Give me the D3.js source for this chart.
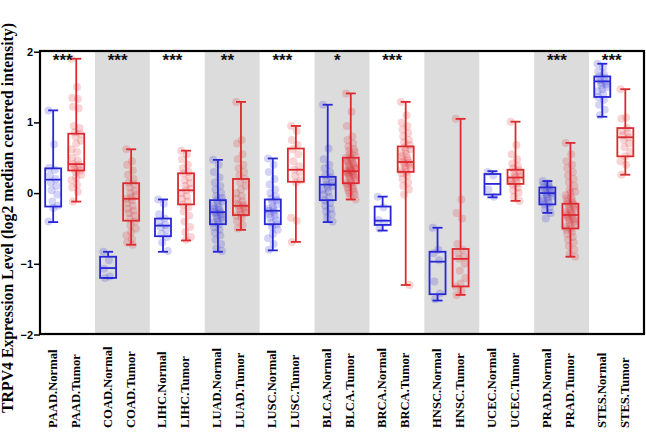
<!DOCTYPE html>
<html><head><meta charset="utf-8">
<script src="https://cdn.jsdelivr.net/npm/d3@7"></script>
<style>body{margin:0;background:#fff}svg{display:block}</style>
</head><body>
<svg id="chart" width="646" height="434"></svg>
<script>
const cancers = ["PAAD","COAD","LIHC","LUAD","LUSC","BLCA","BRCA","HNSC","UCEC","PRAD","STES"];
const stars = ["***","***","***","**","***","*","***","","","***","***"];
const yTicks = [-2,-1,0,1,2];
// box stats: [whiskerLow, q1, median, q3, whiskerHigh]
const normalStats = [
  [-0.41,-0.19,0.19,0.35,1.17],[-1.20,-1.20,-1.06,-0.90,-0.83],[-0.83,-0.61,-0.46,-0.36,-0.09],
  [-0.83,-0.44,-0.27,-0.10,0.47],[-0.81,-0.44,-0.25,-0.09,0.49],[-0.41,-0.10,0.12,0.23,1.25],
  [-0.53,-0.45,-0.39,-0.19,-0.05],[-1.52,-1.43,-0.97,-0.83,-0.49],[-0.06,-0.02,0.13,0.27,0.31],
  [-0.28,-0.16,0.00,0.08,0.17],[1.08,1.36,1.58,1.65,1.83]];
const tumorStats = [
  [-0.12,0.32,0.41,0.84,1.90],[-0.73,-0.39,-0.08,0.14,0.62],[-0.67,-0.16,0.04,0.28,0.60],
  [-0.52,-0.31,-0.18,0.20,1.29],[-0.69,0.16,0.33,0.63,0.95],[-0.09,0.14,0.31,0.50,1.41],
  [-1.30,0.30,0.44,0.66,1.29],[-1.44,-1.32,-0.93,-0.79,1.05],[-0.11,0.13,0.22,0.33,1.01],
  [-0.90,-0.50,-0.31,-0.15,0.71],[0.26,0.52,0.79,0.92,1.47]];
const normalPts = [
  [1.17,0.69,0.36,0.33,0.25,0.20,0.15,0.10,0.04,-0.02,-0.12,-0.18,-0.21,-0.40],
  [-0.83,-0.95,-1.07,-1.18,-1.20],
  [-0.09,-0.15,-0.30,-0.36,-0.40,-0.45,-0.48,-0.52,-0.58,-0.62,-0.70,-0.82],
  [0.47,0.40,0.30,0.22,0.15,0.10,0.05,0.0,-0.04,-0.07,-0.10,-0.12,-0.15,-0.18,-0.20,-0.22,-0.24,-0.26,-0.27,-0.28,-0.30,-0.32,-0.34,-0.36,-0.38,-0.40,-0.42,-0.44,-0.48,-0.52,-0.56,-0.60,-0.66,-0.72,-0.78,-0.82],
  [0.49,0.40,0.30,0.20,0.12,0.05,0.0,-0.05,-0.08,-0.10,-0.13,-0.16,-0.19,-0.22,-0.24,-0.25,-0.27,-0.30,-0.32,-0.35,-0.38,-0.42,-0.44,-0.48,-0.52,-0.58,-0.64,-0.72,-0.80],
  [1.25,0.63,0.48,0.40,0.35,0.30,0.25,0.22,0.18,0.15,0.12,0.10,0.08,0.05,0.02,-0.02,-0.06,-0.10,-0.14,-0.18,-0.22,-0.26,-0.30,-0.35,-0.40],
  [-0.05,-0.20,-0.38,-0.42,-0.50],
  [-0.49,-0.80,-0.85,-0.95,-1.25,-1.42,-1.50],
  [0.30,0.25,0.05,-0.05],
  [0.17,0.14,0.12,0.10,0.08,0.06,0.04,0.02,0.01,0.0,-0.02,-0.04,-0.06,-0.08,-0.10,-0.12,-0.14,-0.16,-0.20,-0.24,-0.28,-0.36],
  [1.83,1.78,1.72,1.68,1.65,1.63,1.60,1.58,1.56,1.54,1.52,1.50,1.47,1.44,1.40,1.36,1.32,1.25,1.18,1.10]];
const tumorPts = [
  [1.90,1.50,1.35,1.33,1.22,1.20,0.95,0.92,0.86,0.84,0.80,0.74,0.70,0.62,0.58,0.50,0.46,0.41,0.40,0.38,0.36,0.34,0.32,0.30,0.26,0.22,0.18,0.12,0.08,0.02,-0.12],
  [0.62,0.45,0.40,0.32,0.26,0.20,0.15,0.12,0.08,0.03,0.0,-0.03,-0.06,-0.08,-0.10,-0.14,-0.18,-0.22,-0.25,-0.28,-0.32,-0.36,-0.40,-0.45,-0.50,-0.55,-0.60,-0.65,-0.70,-0.73],
  [0.60,0.55,0.48,0.40,0.35,0.30,0.28,0.22,0.18,0.14,0.10,0.06,0.04,0.0,-0.04,-0.08,-0.12,-0.16,-0.20,-0.26,-0.32,-0.40,-0.48,-0.55,-0.62,-0.66],
  [1.29,0.75,0.70,0.55,0.48,0.40,0.35,0.30,0.25,0.20,0.15,0.10,0.05,0.0,-0.04,-0.08,-0.12,-0.15,-0.17,-0.18,-0.20,-0.22,-0.24,-0.26,-0.28,-0.30,-0.32,-0.35,-0.40,-0.45,-0.50],
  [0.95,0.88,0.75,0.68,0.62,0.55,0.45,0.38,0.33,0.30,0.24,0.18,0.15,-0.35,-0.39,-0.69],
  [1.41,1.15,0.95,0.80,0.75,0.70,0.66,0.62,0.60,0.58,0.55,0.52,0.50,0.50,0.48,0.46,0.45,0.44,0.42,0.40,0.39,0.38,0.36,0.35,0.34,0.33,0.32,0.31,0.30,0.29,0.28,0.27,0.26,0.25,0.24,0.22,0.20,0.18,0.16,0.15,0.14,0.12,0.10,0.08,0.06,0.04,0.02,0.0,-0.02,-0.05,-0.09],
  [1.29,1.10,1.00,0.95,0.90,0.85,0.80,0.75,0.72,0.68,0.65,0.62,0.60,0.58,0.55,0.52,0.50,0.48,0.46,0.44,0.43,0.42,0.40,0.38,0.36,0.34,0.32,0.30,0.28,0.25,0.20,0.15,0.10,0.05,-0.02,-1.30],
  [1.05,-0.09,-0.28,-0.36,-0.72,-0.80,-0.85,-0.90,-0.93,-1.0,-1.1,-1.2,-1.28,-1.32,-1.38,-1.44],
  [1.01,0.68,0.55,0.48,0.42,0.38,0.35,0.32,0.30,0.28,0.25,0.23,0.22,0.20,0.18,0.16,0.14,0.12,0.08,0.04,0.0,-0.05,-0.11],
  [0.71,0.55,0.45,0.40,0.35,0.30,0.25,0.20,0.15,0.10,0.05,0.02,0.0,-0.03,-0.06,-0.08,-0.10,-0.12,-0.14,-0.15,-0.17,-0.19,-0.20,-0.22,-0.24,-0.25,-0.27,-0.28,-0.30,-0.31,-0.32,-0.34,-0.35,-0.37,-0.38,-0.40,-0.42,-0.44,-0.46,-0.48,-0.50,-0.52,-0.55,-0.58,-0.62,-0.66,-0.70,-0.75,-0.80,-0.86,-0.90],
  [1.47,1.07,1.05,0.92,0.88,0.85,0.82,0.79,0.75,0.70,0.65,0.58,0.52,0.45,0.40,0.26]];

const svg = d3.select("#chart");
const L = 40, R = 644, T = 51, B = 334;
const x = d3.scaleBand().domain(cancers).range([L, R]);
const sub = d3.scalePoint().domain(["Normal","Tumor"]).range([x.bandwidth()*0.24, x.bandwidth()*0.66]);
const y = d3.scaleLinear().domain([-2, 2]).range([B + 0.5, T + 0.7]);
const colors = {Normal: "#2727d6", Tumor: "#dc2a2e"};

// background bands
svg.append("g").selectAll("rect").data(cancers.filter((d,i)=>i%2===1)).join("rect")
  .attr("x", d=>x(d)).attr("y", T).attr("width", x.bandwidth()).attr("height", B-T)
  .attr("fill", "#dcdcdc");

const series = [];
cancers.forEach((c,i)=>{
  series.push({c, type:"Normal", stats: normalStats[i], pts: normalPts[i]});
  series.push({c, type:"Tumor", stats: tumorStats[i], pts: tumorPts[i]});
});
const cx = s => x(s.c) + sub(s.type);
const bw = 16, cap = 10;

const g = svg.append("g");
series.forEach(s=>{
  const col = colors[s.type];
  const xc = cx(s);
  const [lo,q1,med,q3,hi] = s.stats;
  g.append("g").selectAll("circle").data(s.pts).join("circle")
    .attr("cx", (d,i)=> xc + (((i*7)%13) - 6) * 0.8)
    .attr("cy", d=>y(d)).attr("r", 4)
    .attr("fill", col).attr("fill-opacity", 0.2).attr("stroke","none");
  const bx = g.append("g").attr("stroke", col).attr("stroke-width", 1.8).attr("fill","none");
  bx.append("line").attr("x1",xc).attr("x2",xc).attr("y1",y(hi)).attr("y2",y(q3));
  bx.append("line").attr("x1",xc).attr("x2",xc).attr("y1",y(q1)).attr("y2",y(lo));
  bx.append("line").attr("x1",xc-cap/2).attr("x2",xc+cap/2).attr("y1",y(hi)).attr("y2",y(hi));
  bx.append("line").attr("x1",xc-cap/2).attr("x2",xc+cap/2).attr("y1",y(lo)).attr("y2",y(lo));
  bx.append("rect").attr("x",xc-bw/2).attr("y",y(q3)).attr("width",bw).attr("height",y(q1)-y(q3));
  bx.append("line").attr("x1",xc-bw/2).attr("x2",xc+bw/2).attr("y1",y(med)).attr("y2",y(med));
});

// stars
svg.append("g").selectAll("text").data(cancers).join("text")
  .attr("x", (d)=> x(d) + (sub("Normal")+sub("Tumor"))/2 - 2)
  .attr("y", T + 15)
  .attr("text-anchor","middle")
  .attr("font-family","Liberation Sans, Arial, sans-serif").attr("font-weight","bold").attr("font-size",17)
  .attr("fill","#111")
  .text((d,i)=>stars[i]);

// frame
svg.append("rect").attr("x",L).attr("y",T).attr("width",R-L).attr("height",B-T)
  .attr("fill","none").attr("stroke","#000").attr("stroke-width",2.2);

// y axis
const ya = svg.append("g").attr("transform",`translate(${L},0)`)
  .call(d3.axisLeft(y).tickValues(yTicks).tickSize(6).tickFormat(d3.format("d")));
ya.select(".domain").remove();
ya.selectAll(".tick line").attr("stroke","#000").attr("stroke-width",1.5);
ya.selectAll("text").attr("font-family","Liberation Sans, Arial, sans-serif").attr("font-weight","bold")
  .attr("font-size",11).attr("fill","#000").attr("x",-7);

// y label
svg.append("text").attr("transform","translate(13,218) rotate(-90)")
  .attr("text-anchor","middle")
  .attr("font-family","Liberation Serif, Times New Roman, serif").attr("font-weight","bold").attr("font-size",15.8)
  .text("TRPV4 Expression Level (log2 median centered intensity)");

// x labels
svg.append("g").selectAll("text").data(series).join("text")
  .attr("transform", s=>`translate(${cx(s)-1},428) rotate(-90)`)
  .attr("dy","0.35em").attr("text-anchor","start")
  .attr("font-family","Liberation Serif, Times New Roman, serif").attr("font-weight","bold").attr("font-size",12.6)
  .text(s=>`${s.c}.${s.type}`);
</script>
</body></html>
